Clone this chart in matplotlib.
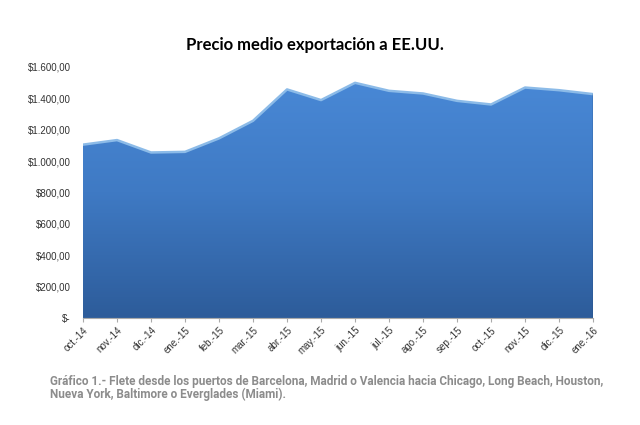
import matplotlib.pyplot as plt
import numpy as np
from matplotlib.colors import LinearSegmentedColormap

meses = ['oct.-14', 'nov.-14', 'dic.-14', 'ene.-15', 'feb.-15', 'mar.-15',
         'abr.-15', 'may.-15', 'jun.-15', 'jul.-15', 'ago.-15', 'sep.-15',
         'oct.-15', 'nov.-15', 'dic.-15', 'ene.-16']
precio = [1105, 1134, 1055, 1059, 1145, 1257, 1457, 1389, 1499, 1448,
          1431, 1384, 1361, 1469, 1452, 1427]
yticks = [0, 200, 400, 600, 800, 1000, 1200, 1400, 1600]
ylabels = ['$-', '$200,00', '$400,00', '$600,00', '$800,00', '$1.000,00',
           '$1.200,00', '$1.400,00', '$1.600,00']

fig = plt.figure(figsize=(6.4, 4.25), dpi=100)
ax = fig.add_axes([0.1297, 0.2518, 0.797, 0.5906])
x = np.arange(len(meses))

poly = ax.fill_between(x, precio, 0, color='none', lw=0)
cmap = LinearSegmentedColormap.from_list('azul', ['#2d5c9a', '#3f7ac4', '#4a8ad8'])
grad = np.linspace(0, 1, 256).reshape(-1, 1)
img = ax.imshow(grad, cmap=cmap, aspect='auto', origin='lower',
                extent=[x[0], x[-1], 0, 1600], zorder=1)
img.set_clip_path(poly.get_paths()[0], transform=ax.transData)
ax.plot(x, precio, color='#8cbbe8', lw=1.8, zorder=3)
ax.plot([x[-1], x[-1]], [0, precio[-1]], color='#25497a', lw=1, zorder=3)

ax.set_xlim(x[0], x[-1])
ax.set_ylim(0, 1600)
ax.set_xticks(x)
ax.set_xticklabels(meses, rotation=45, ha='right', rotation_mode='anchor',
                   fontsize=7, family='Liberation Sans', color='#333333')
ax.set_yticks(yticks)
ax.set_yticklabels(ylabels, fontsize=7, family='Liberation Sans', color='#333333')
ax.tick_params(axis='y', length=0, pad=9)
ax.tick_params(axis='x', length=3, color='#aaaaaa', pad=2)
for s in ['top', 'right', 'left']:
    ax.spines[s].set_visible(False)
ax.spines['bottom'].set_color('#aaaaaa')

fig.text(0.492, 0.893, 'Precio medio exportación a EE.UU.', ha='center',
         va='center', fontsize=12, fontweight='bold', family='Lato')
fig.text(0.078, 0.087,
         'Gráfico 1.- Flete desde los puertos de Barcelona, Madrid o Valencia hacia Chicago, Long Beach, Houston,\n'
         'Nueva York, Baltimore o Everglades (Miami).',
         ha='left', va='center', fontsize=8.5, fontweight='bold',
         family='Roboto', color='#8c8c8c', linespacing=1.0)

fig.savefig('out.png', dpi=100)
